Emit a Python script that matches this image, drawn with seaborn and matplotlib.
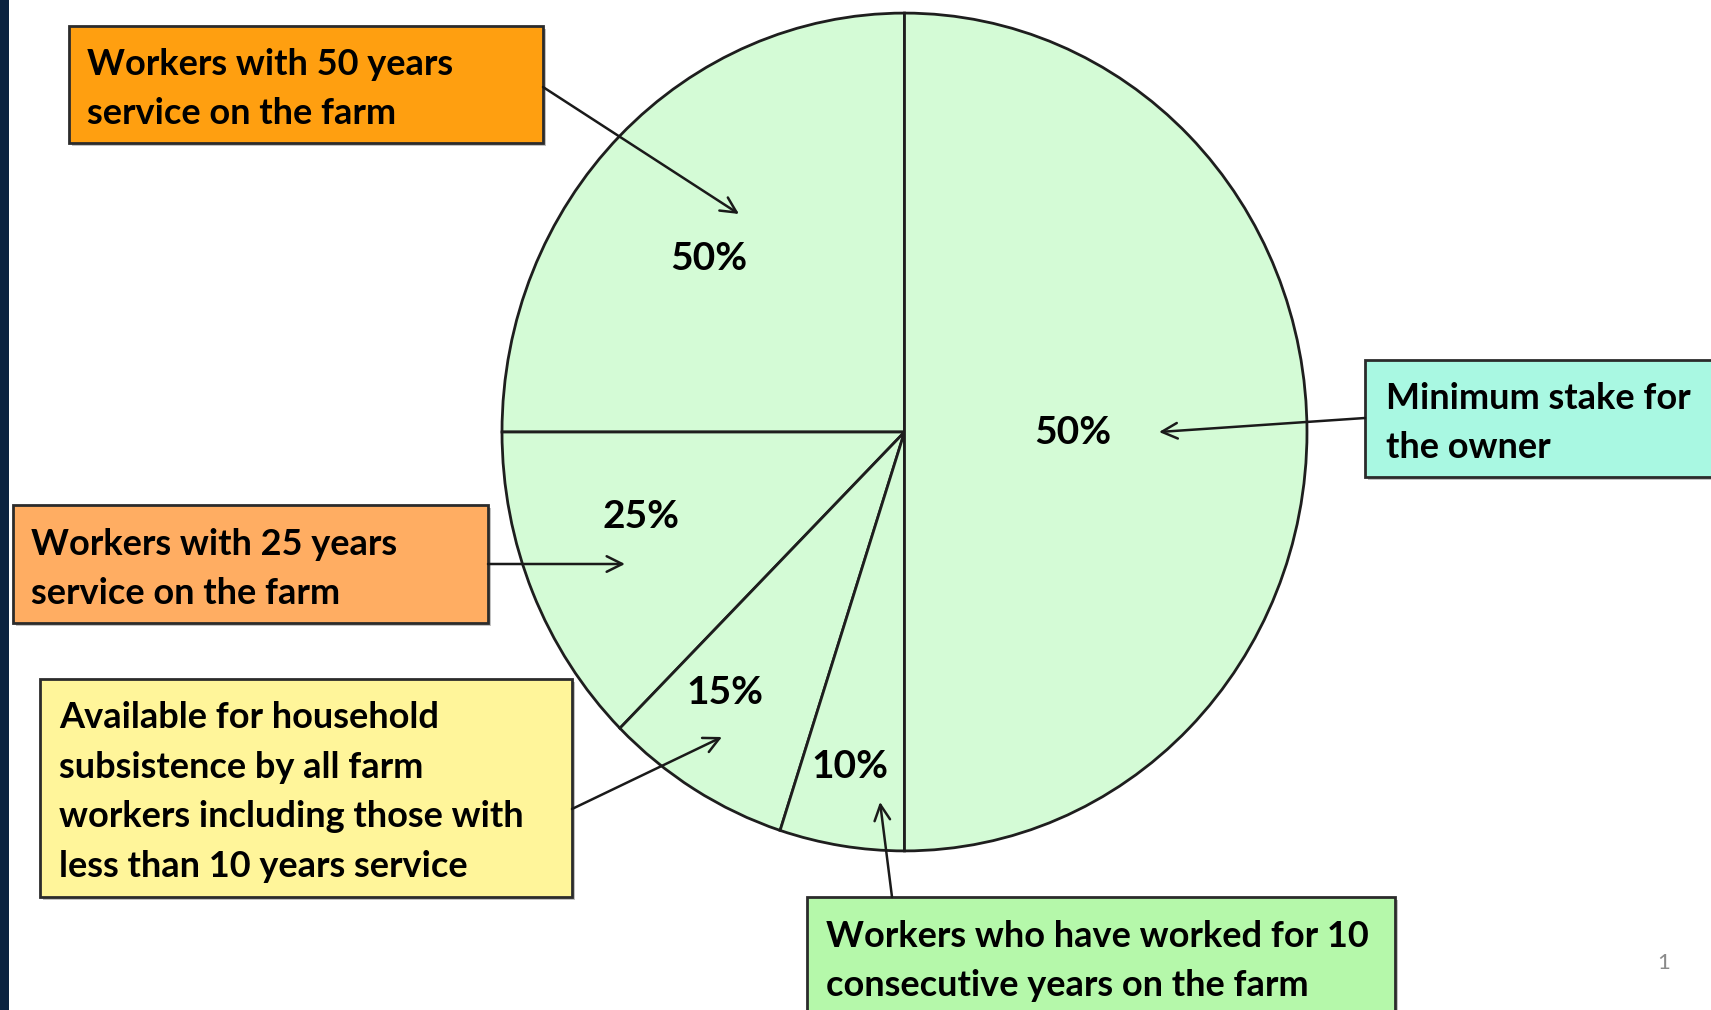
import matplotlib
matplotlib.use("Agg")
import matplotlib.pyplot as plt
from matplotlib.patches import Rectangle
import seaborn as sns

# shares of the farm
owner_share = 50
worker_labels = ["50%", "25%", "15%", "10%"]
worker_split = [50, 25, 15, 10]   # percent of the workers' half
owner_label = "50%"

box_texts = [
    "Workers with 50 years\nservice on the farm",
    "Workers with 25 years\nservice on the farm",
    "Available for household\nsubsistence by all farm\nworkers including those with\nless than 10 years service",
    "Minimum stake for\nthe owner",
    "Workers who have worked for 10\nconsecutive years on the farm",
]
box_colors = ["#FF9F10", "#FFAD62", "#FFF59A", "#A9F8E2", "#B5F8AA"]

sns.set_style("white")
plt.rcParams['font.family'] = ['Lato', 'DejaVu Sans']

W, H = 1711, 1010
fig = plt.figure(figsize=(W / 100, H / 100), dpi=100)
fig.patch.set_facecolor("white")

# pie axes (slightly stretched vertically like the slide)
cx, cy, rx, ry = 904.5, 432, 404.5, 421
pie_ax = fig.add_axes([(cx - rx) / W, 1 - (cy + ry) / H, 2 * rx / W, 2 * ry / H])
sizes = [owner_share * s / 100 for s in worker_split] + [owner_share]
pie_ax.pie(sizes, startangle=90, counterclock=True, radius=1,
           colors=["#D4FBD6"] * len(sizes),
           wedgeprops=dict(edgecolor="#1e1e1e", linewidth=2.0))
pie_ax.set_aspect("auto")
pie_ax.set_xlim(-1.005, 1.005)
pie_ax.set_ylim(-1.005, 1.005)
pie_ax.axis("off")

# overlay in pixel coordinates for boxes, labels and arrows
ax = fig.add_axes([0, 0, 1, 1], zorder=5)
ax.set_xlim(0, W)
ax.set_ylim(H, 0)
ax.axis("off")

ax.add_patch(Rectangle((0, 0), 9, H, facecolor="#0A2240", edgecolor="none"))

# percent labels inside the wedges
label_pos = [(709, 259), (641, 517), (725, 692), (850, 767)]
for (x, y), lab in zip(label_pos, worker_labels):
    ax.text(x, y, lab, ha="center", va="center", fontsize=28,
            fontweight="bold", color="black")
ax.text(1073, 432, owner_label, ha="center", va="center", fontsize=28,
        fontweight="bold", color="black")

# boxes: x0, y0, x1, y1, text x, text y (center)
boxes = [
    (69, 26, 543, 143, 87, 89),
    (13, 505, 488, 623, 31, 569),
    (40, 679, 572, 897, 59, 792),
    (1365, 360, 1720, 477, 1386, 423),
    (807, 897, 1395, 1030, 826, 961),
]
for (x0, y0, x1, y1, tx, ty), txt, col in zip(boxes, box_texts, box_colors):
    ax.add_patch(Rectangle((x0 + 3, y0 + 3), x1 - x0, y1 - y0,
                           facecolor="#9a9a9a", edgecolor="none", alpha=0.6))
    ax.add_patch(Rectangle((x0, y0), x1 - x0, y1 - y0,
                           facecolor=col, edgecolor="#2b2b2b", linewidth=2))
    ax.text(tx, ty, txt, ha="left", va="center", fontsize=26,
            fontweight="bold", color="black", linespacing=1.62)

# arrows from boxes to wedges
arrows = [
    ((543, 87), (739, 214)),
    ((488, 564), (625, 564)),
    ((572, 809), (722, 737)),
    ((1365, 418), (1159, 432)),
    ((892, 897), (880, 802)),
]
for start, end in arrows:
    ax.annotate("", xy=end, xytext=start,
                arrowprops=dict(arrowstyle="->", color="#1a1a1a", lw=1.8,
                                mutation_scale=28, shrinkA=0, shrinkB=0))

ax.text(1664, 963, "1", ha="center", va="center", fontsize=16, color="#8a8a8a")

fig.savefig("out.png", dpi=100)
